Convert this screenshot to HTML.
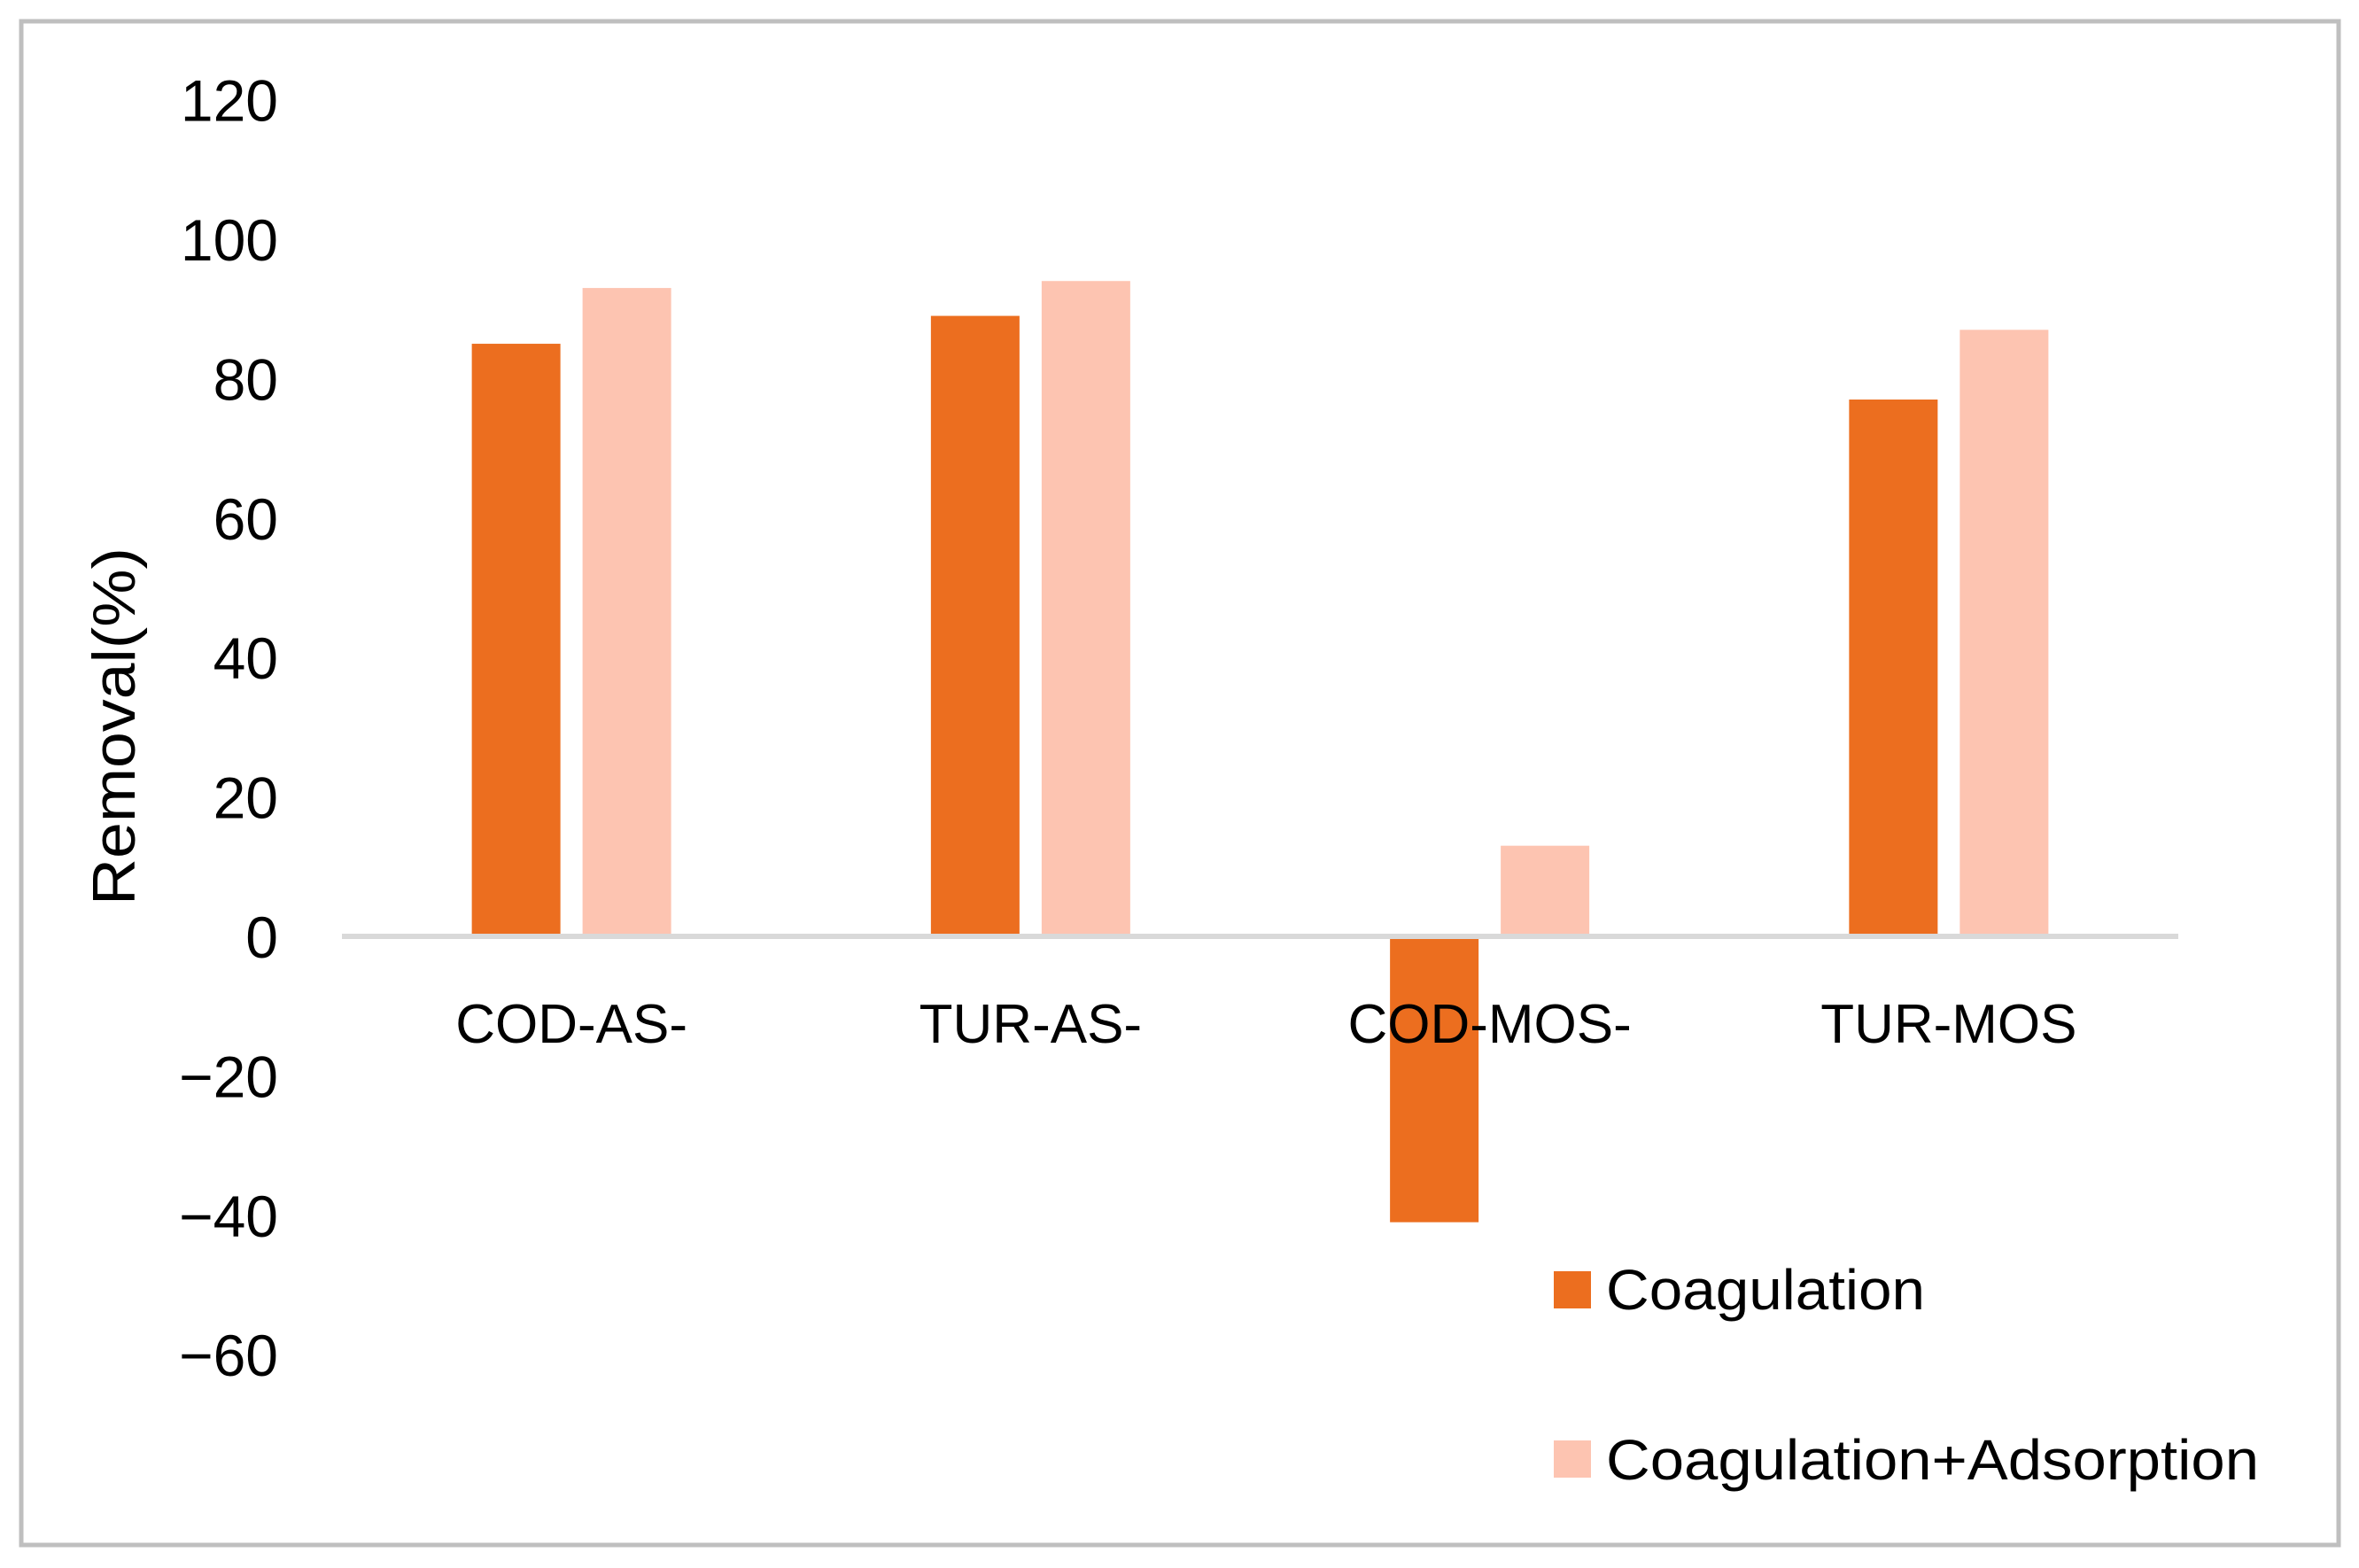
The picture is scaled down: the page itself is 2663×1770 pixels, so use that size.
<!DOCTYPE html>
<html><head><meta charset="utf-8"><style>
html,body{margin:0;padding:0;background:#fff}
svg{display:block}
text{font-family:"Liberation Sans",sans-serif;fill:#000}
</style></head><body>
<svg id="chart" width="2663" height="1770" viewBox="0 0 2663 1770">
<rect x="24" y="24" width="2616" height="1720" fill="#fff" stroke="#bfbfbf" stroke-width="5"/>
<g id="ticks"></g>
<g id="bars"></g>
<line x1="386" y1="1057" x2="2459" y2="1057" stroke="#d9d9d9" stroke-width="6"/>
<g id="cats"></g>
<text x="0" y="0" transform="translate(152,820) rotate(-90)" text-anchor="middle" font-size="68" textLength="404" lengthAdjust="spacingAndGlyphs">Removal(%)</text>
<g>
<rect x="1754" y="1435" width="42" height="42" fill="#EC6E1F"/>
<text x="1813" y="1478" font-size="64" textLength="360" lengthAdjust="spacingAndGlyphs">Coagulation</text>
<rect x="1754" y="1626" width="42" height="42" fill="#FDC4B1"/>
<text x="1813" y="1670" font-size="64" textLength="737" lengthAdjust="spacingAndGlyphs">Coagulation+Adsorption</text>
</g>
</svg>
<script>
const categories = ["COD-AS-", "TUR-AS-", "COD-MOS-", "TUR-MOS"];
const coagulation = [85, 89, -41, 77];
const coagAdsorption = [93, 94, 13, 87];
const tickValues = [120, 100, 80, 60, 40, 20, 0, -20, -40, -60];
const tickLabels = ["120", "100", "80", "60", "40", "20", "0", "\u221220", "\u221240", "\u221260"];

const NS = "http://www.w3.org/2000/svg";
const plotLeft = 386, plotRight = 2459, zeroY = 1057, pxPer20 = 157.4;
function yScale(v){ return zeroY - v * pxPer20 / 20; }
function xCenter(i){ const w = (plotRight - plotLeft) / categories.length; return plotLeft + w * (i + 0.5); }

const ticksG = document.getElementById('ticks');
tickValues.forEach((v, i) => {
  const t = document.createElementNS(NS, 'text');
  t.setAttribute('x', 314);
  t.setAttribute('y', yScale(v) + 24);
  t.setAttribute('text-anchor', 'end');
  t.setAttribute('font-size', '66');
  t.textContent = tickLabels[i];
  
  
  ticksG.appendChild(t);
});

const barsG = document.getElementById('bars');
const bw = 100, gap = 25;
function bar(x, v, color, name){
  const r = document.createElementNS(NS, 'rect');
  const y0 = yScale(0), y1 = yScale(v);
  r.setAttribute('x', x);
  r.setAttribute('y', Math.min(y0, y1));
  r.setAttribute('width', bw);
  r.setAttribute('height', Math.abs(y1 - y0));
  r.setAttribute('fill', color);
  
  
  barsG.appendChild(r);
}
categories.forEach((c, i) => {
  const cx = xCenter(i);
  bar(cx - gap/2 - bw, coagulation[i], '#EC6E1F', 'bar-coagulation-' + c.toLowerCase().replace(/-+$/,''));
  bar(cx + gap/2, coagAdsorption[i], '#FDC4B1', 'bar-coagulation-adsorption-' + c.toLowerCase().replace(/-+$/,''));
});

const catsG = document.getElementById('cats');
categories.forEach((c, i) => {
  const t = document.createElementNS(NS, 'text');
  t.setAttribute('x', xCenter(i));
  t.setAttribute('y', zeroY + 120);
  t.setAttribute('text-anchor', 'middle');
  t.setAttribute('font-size', '62');
  t.textContent = c;
  
  
  catsG.appendChild(t);
});
</script>
</body></html>
